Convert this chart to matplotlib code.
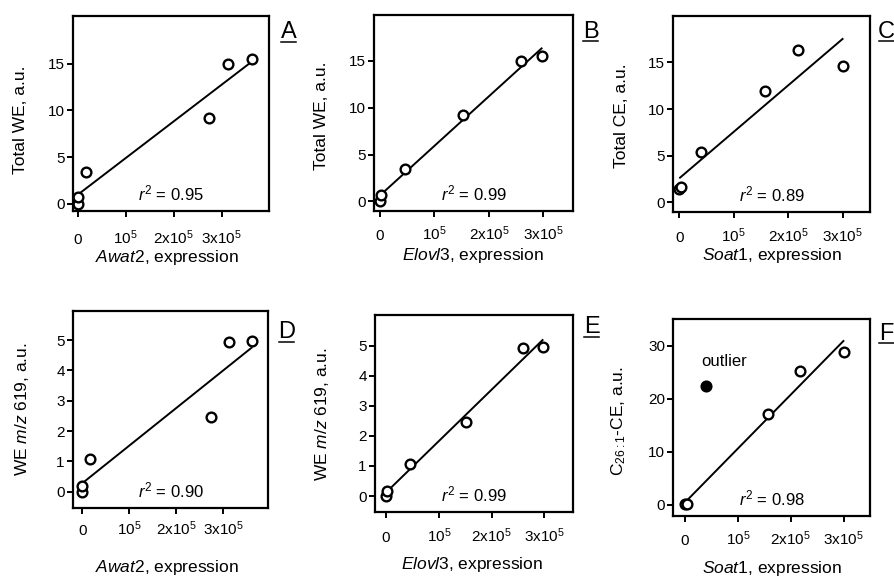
import numpy as np
import matplotlib
matplotlib.use('Agg')
import matplotlib.pyplot as plt
from matplotlib.lines import Line2D

plt.rcParams['font.family'] = ['Liberation Sans', 'DejaVu Sans']
plt.rcParams['mathtext.fontset'] = 'custom'
plt.rcParams['mathtext.rm'] = 'Liberation Sans'
plt.rcParams['mathtext.it'] = 'Liberation Sans:italic'
plt.rcParams['mathtext.bf'] = 'Liberation Sans:bold'

# ---------------- data ----------------
awat2_expr = [0, 0, 0.17e5, 2.74e5, 3.125e5, 3.63e5]
elovl3_expr = [0, 0.02e5, 0.45e5, 1.52e5, 2.59e5, 2.98e5]
soat1_expr = [0, 0.03e5, 0.40e5, 1.58e5, 2.17e5, 3.01e5]

total_we = [0, 0.7, 3.4, 9.2, 14.97, 15.55]
total_ce = [1.4, 1.7, 5.35, 11.95, 16.3, 14.6]
we_mz619 = [0, 0.18, 1.08, 2.47, 4.93, 4.97]
c261_ce = [0.1, 0.1, 22.5, 17.1, 25.2, 28.8]
c261_outlier = [False, False, True, False, False, False]

r2_labels = ['0.95', '0.99', '0.89', '0.90', '0.99', '0.98']
panel_letters = ['A', 'B', 'C', 'D', 'E', 'F']

xtick_values = [0, 1e5, 2e5, 3e5]
xtick_labels = ['0', '10$^{5}$', '2x10$^{5}$', '3x10$^{5}$']
yticks_we = [0, 5, 10, 15]
yticks_mz = [0, 1, 2, 3, 4, 5]
yticks_c261 = [0, 10, 20, 30]

xlabels = ['$\\mathit{Awat2}$, expression', '$\\mathit{Elovl3}$, expression',
           '$\\mathit{Soat1}$, expression', '$\\mathit{Awat2}$, expression',
           '$\\mathit{Elovl3}$, expression', '$\\mathit{Soat1}$, expression']
ylabels = ['Total WE, a.u.', 'Total WE, a.u.', 'Total CE, a.u.',
           'WE $\\mathit{m/z}$ 619, a.u.', 'WE $\\mathit{m/z}$ 619, a.u.',
           'C$_{26:1}$-CE, a.u.']

# ---------------- figure ----------------
W, H = 894, 578
fig = plt.figure(figsize=(W / 100, H / 100), dpi=100)


def px_box(x0, x1, ytop, ybot):
    return [x0 / W, 1 - ybot / H, (x1 - x0) / W, (ybot - ytop) / H]


panels = [
    dict(box=px_box(73, 269, 16, 211), x=awat2_expr, y=total_we, yt=yticks_we,
         xlim=(-0.10e5, 3.99e5), ylim=(-0.75, 20.1), xpad=19.0,
         ylab=(-0.267, 0.47), xlab=(0.48, -0.236), letter=(288.8, 38.3)),
    dict(box=px_box(374.3, 573.3, 14.7, 211), x=elovl3_expr, y=total_we, yt=yticks_we,
         xlim=(-0.105e5, 3.55e5), ylim=(-1.04, 19.95), xpad=16.5,
         ylab=(-0.264, 0.485), xlab=(0.494, -0.228), letter=(590.5, 38.0)),
    dict(box=px_box(673.3, 870, 15.7, 211.7), x=soat1_expr, y=total_ce, yt=yticks_we,
         xlim=(-0.11e5, 3.5e5), ylim=(-1.0, 20.0), xpad=17.5,
         ylab=(-0.262, 0.49), xlab=(0.5, -0.225), letter=(886.5, 38.0)),
    dict(box=px_box(73, 268.3, 310.7, 508.3), x=awat2_expr, y=we_mz619, yt=yticks_mz,
         xlim=(-0.20e5, 3.97e5), ylim=(-0.55, 5.97), xpad=15.0,
         ylab=(-0.263, 0.50), xlab=(0.483, -0.30), letter=(286.3, 338.3)),
    dict(box=px_box(375, 573.3, 315, 511.7), x=elovl3_expr, y=we_mz619, yt=yticks_mz,
         xlim=(-0.21e5, 3.55e5), ylim=(-0.52, 6.02), xpad=17.5,
         ylab=(-0.269, 0.497), xlab=(0.49, -0.266), letter=(591.5, 333.3)),
    dict(box=px_box(673.3, 870, 319.3, 516), x=soat1_expr, y=c261_ce, yt=yticks_c261,
         xlim=(-0.22e5, 3.5e5), ylim=(-2.08, 35.0), xpad=16.5,
         ylab=(-0.28, 0.484), xlab=(0.5, -0.268), letter=(886.5, 339.5)),
]

TICK_FS = 11
LAB_FS = 12.5
TXT_FS = 12
for i, p in enumerate(panels):
    ax = fig.add_axes(p['box'])
    x = np.asarray(p['x'], dtype=float)
    y = np.asarray(p['y'], dtype=float)
    if i == 5:
        mask = ~np.asarray(c261_outlier)
    else:
        mask = np.ones(len(x), dtype=bool)
    xf, yf = x[mask], y[mask]
    slope, icpt = np.polyfit(xf, yf, 1)
    xl = np.array([xf.min(), xf.max()])
    ax.plot(xl, slope * xl + icpt, color='black', lw=1.4, zorder=2,
            solid_capstyle='butt')
    ax.plot(xf, yf, 'o', mfc='white', mec='black', ms=7.0, mew=1.7, zorder=3,
            clip_on=False)
    if i == 5:
        xo, yo = x[~mask], y[~mask]
        ax.plot(xo, yo, 'o', mfc='black', mec='black', ms=7.0, mew=1.7, zorder=3)
        ax.annotate('outlier', xy=(xo[0], yo[0]), xytext=(13, 17),
                    textcoords='offset points', ha='center', va='center',
                    fontsize=TXT_FS)

    ax.set_xlim(*p['xlim'])
    ax.set_ylim(*p['ylim'])
    ax.set_xticks(xtick_values)
    ax.set_xticklabels(xtick_labels)
    ax.set_yticks(p['yt'])
    for s in ax.spines.values():
        s.set_linewidth(1.6)
    ax.tick_params(axis='both', direction='out', length=4.5, width=1.4,
                   labelsize=TICK_FS, colors='black')
    ax.tick_params(axis='y', pad=1.5)
    ax.tick_params(axis='x', pad=p['xpad'])
    for t in ax.get_xticklabels():
        t.set_va('baseline')

    ax.set_xlabel(xlabels[i], fontsize=LAB_FS)
    ax.set_ylabel(ylabels[i], fontsize=LAB_FS)
    ax.xaxis.set_label_coords(*p['xlab'])
    ax.yaxis.set_label_coords(*p['ylab'])
    ax.xaxis.label.set_va('center')
    ax.yaxis.label.set_va('center')

    ax.text(0.5, 0.09, '$\\mathit{r}^{2}$ = ' + r2_labels[i], transform=ax.transAxes,
            ha='center', va='center', fontsize=TXT_FS)

    # panel letter with underline
    cx, base = p['letter']
    fig.text(cx / W, 1 - base / H, panel_letters[i], ha='center', va='baseline',
             fontsize=17)
    uy = 1 - (base + 3.4) / H
    fig.add_artist(Line2D([(cx - 7.5) / W, (cx + 7.5) / W], [uy, uy],
                          color='black', lw=1.1))

fig.savefig('out.png', dpi=100)
